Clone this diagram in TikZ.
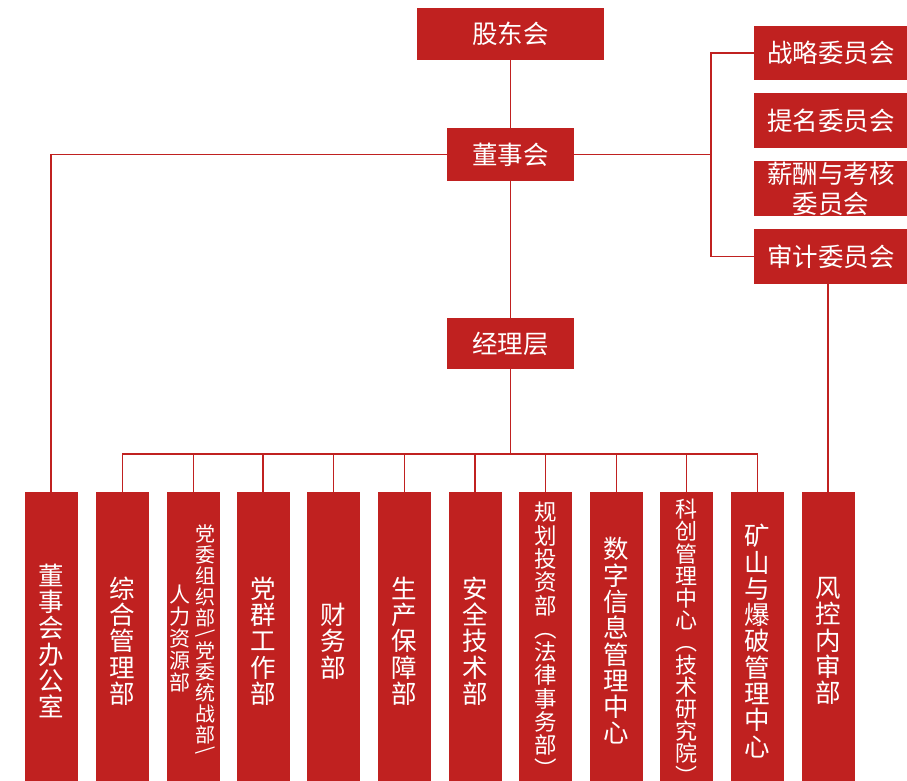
\documentclass[tikz,border=0pt]{standalone}
\usepackage{fontspec}
\usepackage{graphicx}
\setmainfont{Noto Sans CJK SC}
\usetikzlibrary{backgrounds}
\definecolor{boxred}{RGB}{192,33,32}
\begin{document}
\begin{tikzpicture}[x=1pt,y=-1pt,
  box/.style={fill=boxred, draw=none, text=white, inner sep=0pt, align=center,
    font=\fontsize{25.5}{30}\selectfont},
  topbox/.style={box, minimum width=127pt, minimum height=53pt},
  cmte/.style={box, minimum width=154pt, minimum height=54.5pt},
  dept/.style={box, minimum width=53pt, minimum height=298pt,
    font=\fontsize{25.5}{26.3}\selectfont},
  vlabel/.style={text=white, inner sep=0pt, align=center},
  link/.style={draw=boxred, line width=1.7pt, line cap=rect}]
\useasboundingbox (0,0) rectangle (907,781);
\clip (0,0) rectangle (907,781);

% top level
\node[box, minimum width=187pt, minimum height=52pt] (gd) at (510.5,34) {股东会};
\node[topbox] (dsh) at (510.5,154.5) {董事会};
\node[topbox, minimum height=51pt] (jll) at (510.5,343.5) {经理层};

% committees
\node[cmte] (c1) at (831,53) {战略委员会};
\node[cmte] (c2) at (831,120.5) {提名委员会};
\node[cmte] (c3) at (831,188.5) {薪酬与考核\\委员会};
\node[cmte] (c4) at (831,256.5) {审计委员会};

% departments
\node[dept] (b1)  at (51,641)    {董\\事\\会\\办\\公\\室};
\node[dept] (b2)  at (122.5,641) {综\\合\\管\\理\\部};
\node[dept] (b3)  at (193.5,641) {};
\node[vlabel, font=\fontsize{20}{21}\selectfont] (b3r) at (205,640)
  {党\\委\\组\\织\\部\\[-9pt]\rotatebox{90}{\textbackslash}\\党\\委\\统\\战\\部\\[-9pt]\rotatebox{90}{\textbackslash}};
\node[vlabel, font=\fontsize{21}{22}\selectfont] (b3l) at (180,639)
  {人\\力\\资\\源\\部};
\node[dept] (b4)  at (263,641)   {党\\群\\工\\作\\部};
\node[dept] (b5)  at (333.5,641) {财\\务\\部};
\node[dept] (b6)  at (404.5,641) {生\\产\\保\\障\\部};
\node[dept] (b7)  at (475,641)   {安\\全\\技\\术\\部};
\node[dept] (b8)  at (545.5,641) {};
\node[vlabel, font=\fontsize{22.5}{23.3}\selectfont, anchor=north] (b8t) at (546,502)
  {规\\划\\投\\资\\部\\︵\\法\\律\\事\\务\\部\\︶};
\node[dept] (b9)  at (616.5,641) {数\\字\\信\\息\\管\\理\\中\\心};
\node[dept] (b10) at (686.5,641) {};
\node[vlabel, font=\fontsize{22}{22.2}\selectfont, anchor=north] (b10t) at (686.5,499)
  {科\\创\\管\\理\\中\\心\\︵\\技\\术\\研\\究\\院\\︶};
\node[dept] (b11) at (757.5,641) {矿\\山\\与\\爆\\破\\管\\理\\中\\心};
\node[dept] (b12) at (828,641)   {风\\控\\内\\审\\部};

% connectors
\begin{pgfonlayer}{background}
\draw[link] (gd.south) -- (dsh.north);
\draw[link] (dsh.south) -- (jll.north);
\coordinate (bus) at (510.5,454);
\draw[link] (jll.south) -- (bus);
\draw[link] (b2.north |- bus) -- (b11.north |- bus);
\foreach \i in {2,...,11} \draw[link] (b\i.north |- bus) -- (b\i.north);
\draw[link] (dsh.west) -| (b1.north);
\coordinate (cj) at (711,154.5);
\draw[link] (dsh.east) -- (cj);
\draw[link] (c1.west) -| (cj) |- (c4.west);
\draw[link] (b12.north |- c4.south) -- (b12.north);
\end{pgfonlayer}
\end{tikzpicture}
\end{document}
